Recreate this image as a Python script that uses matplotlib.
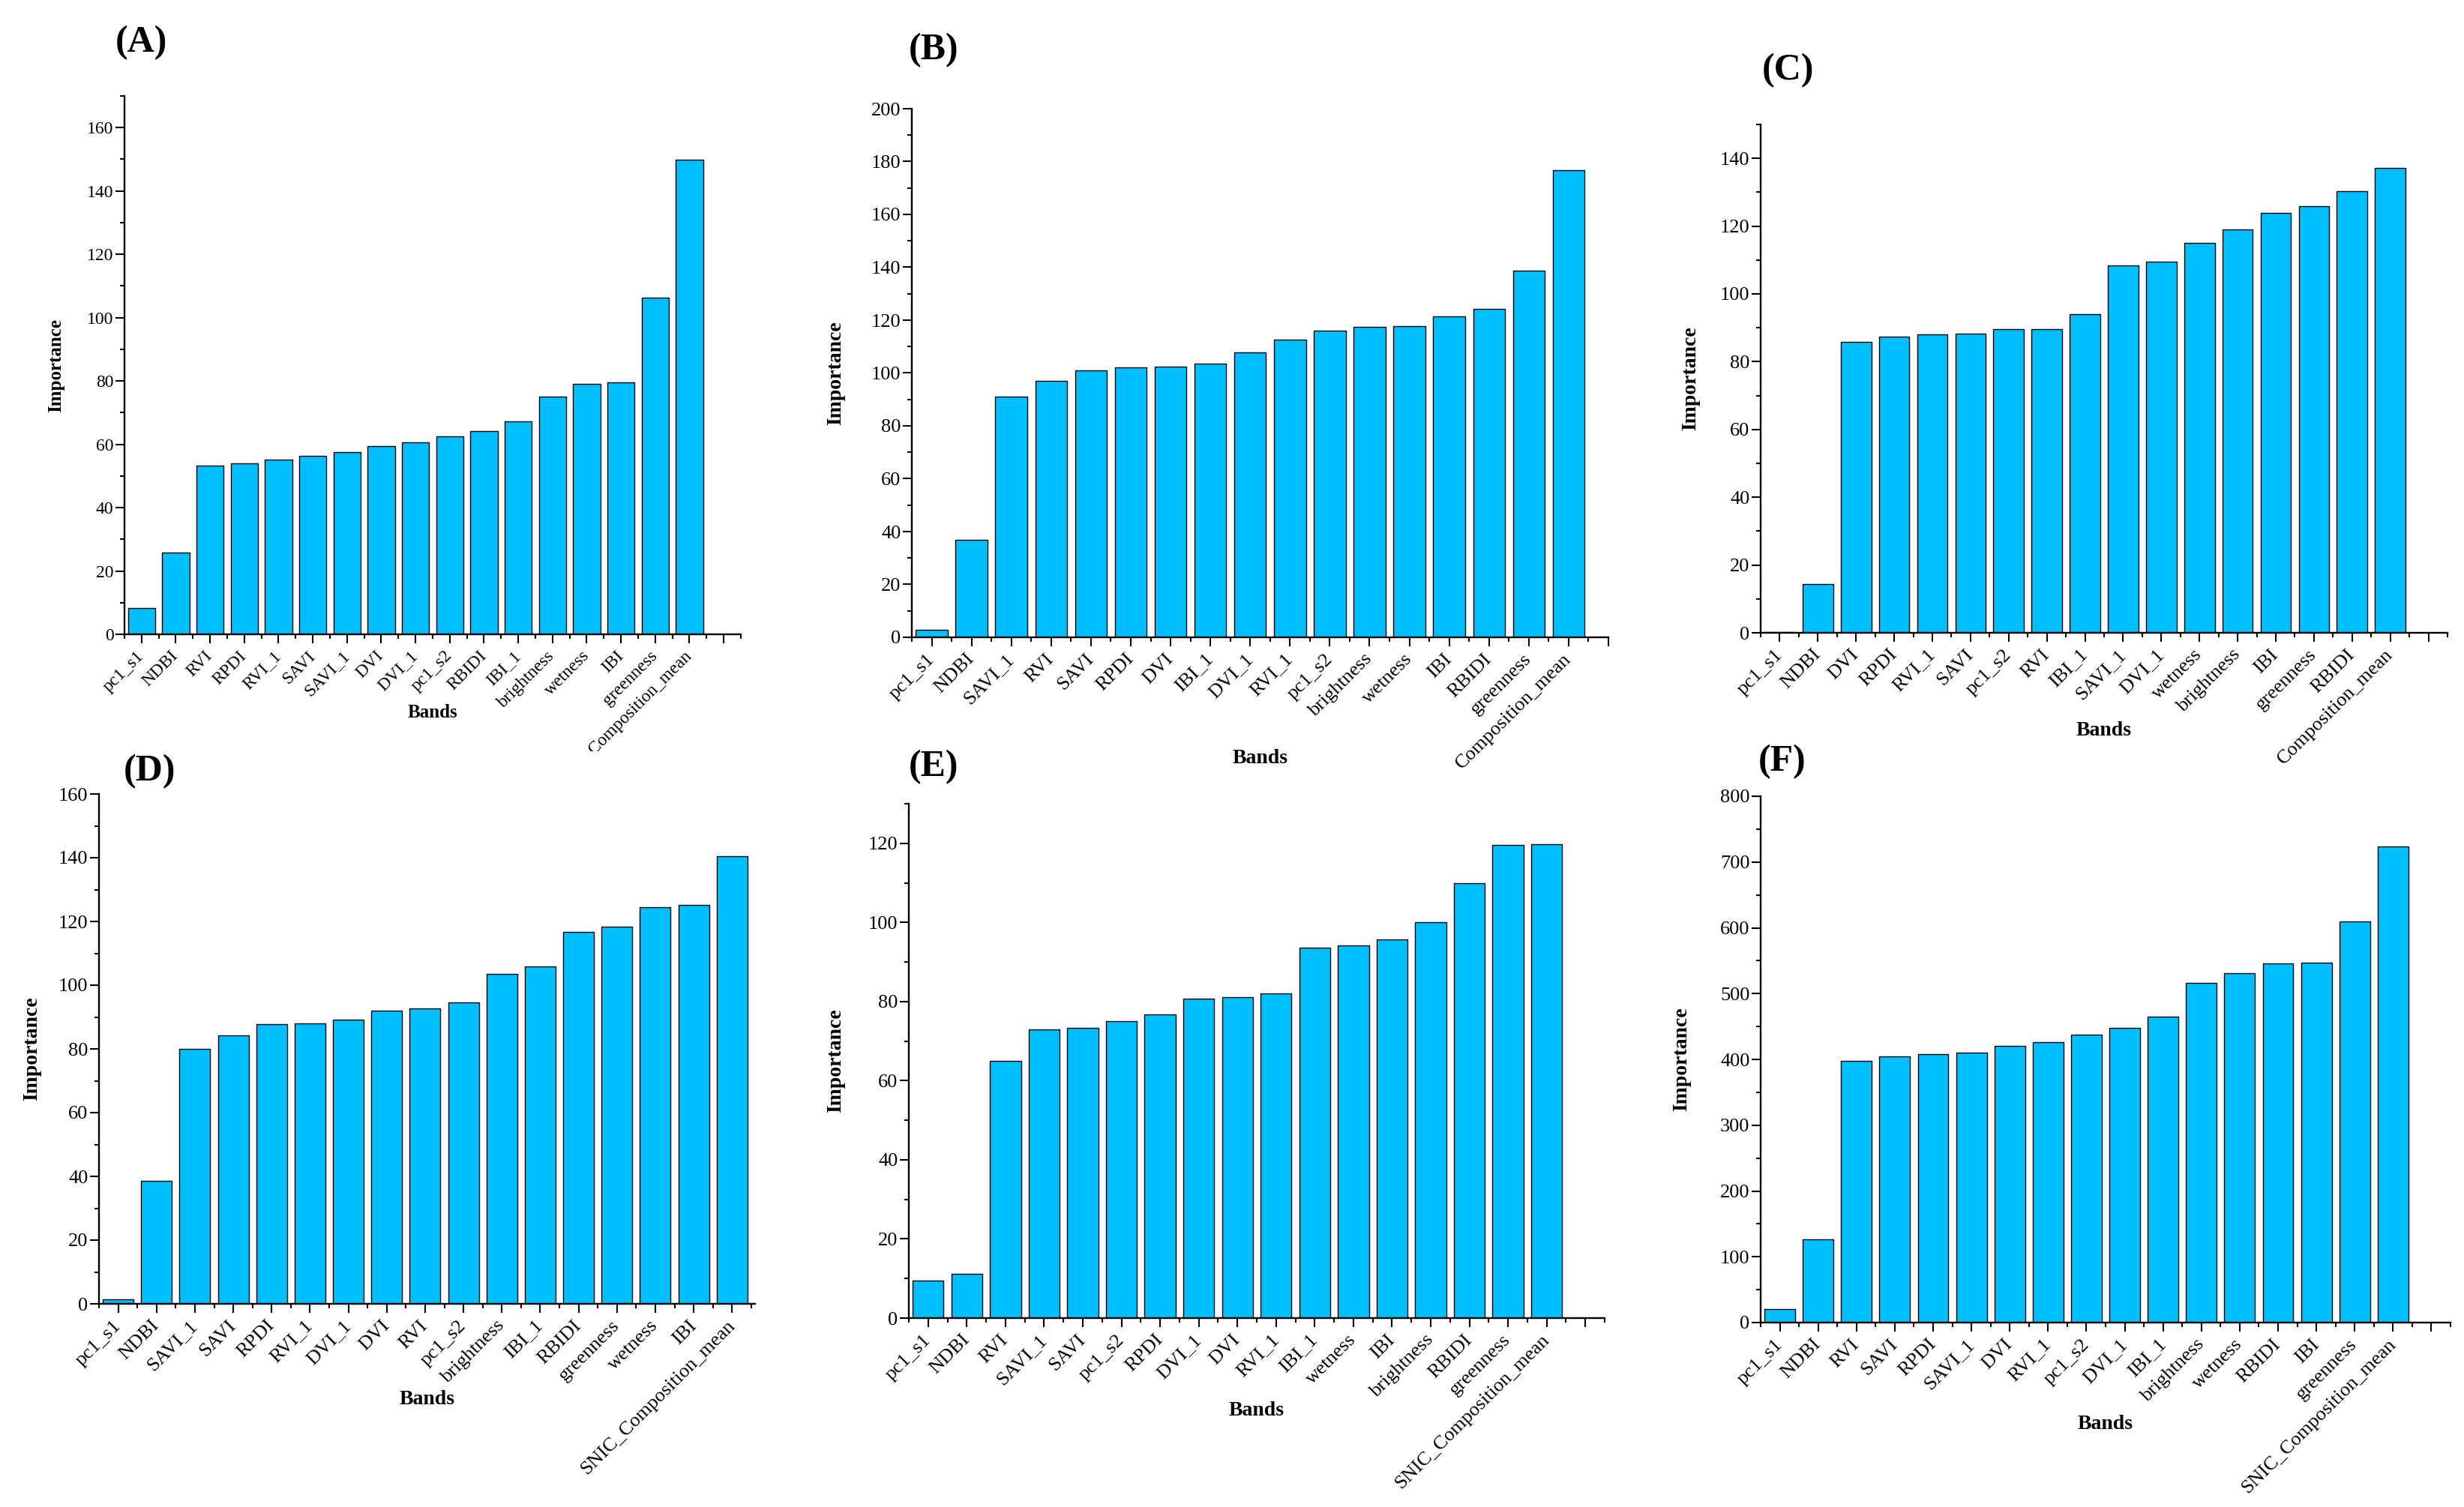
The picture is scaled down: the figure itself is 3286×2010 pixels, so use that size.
import matplotlib
matplotlib.use('Agg')
import matplotlib.pyplot as plt
from matplotlib.ticker import MultipleLocator, FixedLocator
from matplotlib.transforms import Bbox

plt.rcParams['font.family'] = ['Liberation Serif', 'DejaVu Serif']

# ---- data ----
bands_a = ['pc1_s1', 'NDBI', 'RVI', 'RPDI', 'RVI_1', 'SAVI', 'SAVI_1', 'DVI', 'DVI_1',
           'pc1_s2', 'RBIDI', 'IBI_1', 'brightness', 'wetness', 'IBI', 'greenness',
           'SNIC_Composition_mean']
imp_a = [8.4, 25.9, 53.2, 54.1, 55.2, 56.3, 57.6, 59.4, 60.6, 62.4, 64.2, 67.3,
         75.0, 79.0, 79.5, 106.2, 149.9]

bands_b = ['pc1_s1', 'NDBI', 'SAVI_1', 'RVI', 'SAVI', 'RPDI', 'DVI', 'IBI_1', 'DVI_1',
           'RVI_1', 'pc1_s2', 'brightness', 'wetness', 'IBI', 'RBIDI', 'greenness',
           'Composition_mean']
imp_b = [2.7, 37.0, 91.0, 97.1, 101.0, 102.2, 102.4, 103.5, 107.9, 112.6, 116.0,
         117.4, 117.8, 121.4, 124.2, 138.7, 176.8]

bands_c = ['pc1_s1', 'NDBI', 'DVI', 'RPDI', 'RVI_1', 'SAVI', 'pc1_s2', 'RVI', 'IBI_1',
           'SAVI_1', 'DVI_1', 'wetness', 'brightness', 'IBI', 'greenness', 'RBIDI',
           'Composition_mean']
imp_c = [0.3, 14.4, 85.9, 87.3, 88.0, 88.3, 89.6, 89.7, 94.1, 108.4, 109.5, 115.1,
         119.1, 123.9, 125.9, 130.4, 137.2]

bands_d = ['pc1_s1', 'NDBI', 'SAVI_1', 'SAVI', 'RPDI', 'RVI_1', 'DVI_1', 'DVI', 'RVI',
           'pc1_s2', 'brightness', 'IBI_1', 'RBIDI', 'greenness', 'wetness', 'IBI',
           'SNIC_Composition_mean']
imp_d = [1.4, 38.7, 79.9, 84.2, 87.7, 88.1, 89.2, 91.9, 92.7, 94.5, 103.6, 105.9,
         116.6, 118.3, 124.5, 125.1, 140.4]

bands_e = ['pc1_s1', 'NDBI', 'RVI', 'SAVI_1', 'SAVI', 'pc1_s2', 'RPDI', 'DVI_1', 'DVI',
           'RVI_1', 'IBI_1', 'wetness', 'IBI', 'brightness', 'RBIDI', 'greenness',
           'SNIC_Composition_mean']
imp_e = [9.4, 11.1, 65.0, 73.0, 73.4, 75.1, 76.8, 80.7, 81.1, 82.1, 93.7, 94.1, 95.7,
         100.0, 109.9, 119.5, 119.8]

bands_f = ['pc1_s1', 'NDBI', 'RVI', 'SAVI', 'RPDI', 'SAVI_1', 'DVI', 'RVI_1', 'pc1_s2',
           'DVI_1', 'IBI_1', 'brightness', 'wetness', 'RBIDI', 'IBI', 'greenness',
           'SNIC_Composition_mean']
imp_f = [21, 127, 398, 404, 408, 410, 421, 426, 438, 448, 465, 516, 531, 546, 547,
         610, 724]

W, H = 3287, 2010
fig = plt.figure(figsize=(W / 100, H / 100), dpi=100)

# tag, bands, values, axes box in px (left, top, right, bottom), ymax, ystep, xmax,
# tag position px, ylabel x px, xlabel y px, font size
panels = [
    ('(A)', bands_a, imp_a, (166, 128, 988, 846), 170, 20, 17.5, (188, 57), 75, 950, 17),
    ('(B)', bands_b, imp_b, (1216, 145, 2145, 850), 200, 20, 17.0, (1245, 67), 1115, 1011, 19),
    ('(C)', bands_c, imp_c, (2348, 166, 3264, 844), 150, 20, 17.5, (2385, 94), 2255, 974, 19),
    ('(D)', bands_d, imp_d, (132, 1059, 1007, 1739), 160, 20, 16.6, (200, 1029), 43, 1866, 19),
    ('(E)', bands_e, imp_e, (1212, 1072, 2140, 1758), 130, 20, 17.5, (1245, 1023), 1115, 1881, 19),
    ('(F)', bands_f, imp_f, (2348, 1062, 3268, 1764), 800, 100, 17.5, (2377, 1016), 2243, 1900, 19),
]

axes = []
for tag, bands, imp, box, ymax, ystep, xmax, tpos, ylx, xly, fs in panels:
    l, t, r, b = box
    ax = fig.add_axes([l / W, 1 - b / H, (r - l) / W, (b - t) / H])
    x = list(range(len(bands)))
    ax.bar(x, imp, width=0.8, color='#00BFFF', edgecolor='black', linewidth=1.0)
    ax.set_xlim(-0.5, xmax)
    ax.set_ylim(0, ymax)

    nmaj = int(xmax) + 1
    ax.xaxis.set_major_locator(FixedLocator(list(range(nmaj))))
    ax.set_xticklabels(bands + [''] * (nmaj - len(bands)))
    ax.xaxis.set_minor_locator(MultipleLocator(0.5))
    ax.yaxis.set_major_locator(MultipleLocator(ystep))
    ax.yaxis.set_minor_locator(MultipleLocator(ystep / 2))

    for s in ['top', 'right']:
        ax.spines[s].set_visible(False)
    for s in ['left', 'bottom']:
        ax.spines[s].set_linewidth(1.7)
    ax.tick_params(which='major', direction='out', length=8.5, width=1.5,
                   labelsize=fs, pad=2)
    ax.tick_params(which='minor', direction='out', length=4.3, width=1.5)
    ax.tick_params(axis='x', which='major', pad=10)
    for lbl in ax.get_xticklabels():
        lbl.set_rotation(45)
        lbl.set_ha('right')
        lbl.set_va('center')
        lbl.set_rotation_mode('anchor')

    ax.set_ylabel('Importance', fontsize=fs + 1, fontweight='bold', va='center')
    ax.yaxis.set_label_coords((ylx - l) / (r - l), 0.5)
    ax.set_xlabel('Bands', fontsize=fs + 1, fontweight='bold', va='center')
    ax.xaxis.set_label_coords(0.5, (b - xly) / (b - t))

    fig.text(tpos[0] / W, 1 - tpos[1] / H, tag, ha='center', va='center',
             fontsize=36, fontweight='bold')
    axes.append(ax)

# the long last label of (A) is cut by the panel below in the original
last = axes[0].get_xticklabels()[16]
last.set_clip_box(Bbox.from_extents(0, H - 1002, W, H))
last.set_clip_on(True)

fig.savefig('out.png', dpi=100)
